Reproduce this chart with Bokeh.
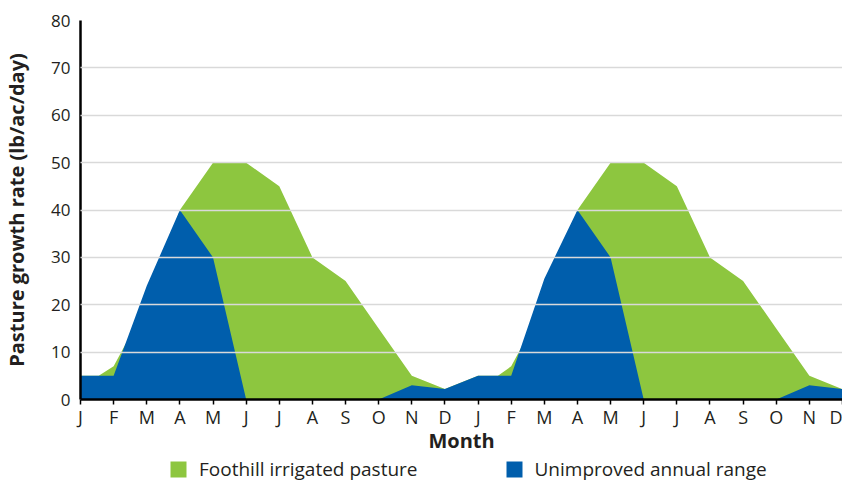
from bokeh.plotting import figure
from bokeh.layouts import column
from bokeh.models import Range1d, FixedTicker, Legend, LegendItem, ColumnDataSource
from bokeh.embed import file_html
from bokeh.resources import INLINE

# --- data -------------------------------------------------------------
month_labels = ["J", "F", "M", "A", "M", "J", "J", "A", "S", "O", "N", "D",
                "J", "F", "M", "A", "M", "J", "J", "A", "S", "O", "N", "D"]
month_pos = list(range(24))

foothill_x = [0, 0.55, 1, 2, 3, 4, 5, 6, 7, 8, 9, 10, 11,
              12, 12.6, 13, 14, 15, 16, 17, 18, 19, 20, 21, 22, 23]
foothill_y = [5, 5, 7, 20, 40, 50, 50, 45, 30, 25, 15, 5, 2.2,
              5, 5, 7, 20, 40, 50, 50, 45, 30, 25, 15, 5, 2.2]

unimproved_x = month_pos
unimproved_y = [5, 5, 24, 40, 30, 0, 0, 0, 0, 0, 3, 2.2,
                5, 5, 25.5, 40, 30, 0, 0, 0, 0, 0, 3, 2.2]

y_ticks = [0, 10, 20, 30, 40, 50, 60, 70, 80]
series_names = ["Foothill irrigated pasture", "Unimproved annual range"]

GREEN = "#8DC63F"
BLUE = "#005EAC"
FONT = "Open Sans"
TXT = "#231F20"

# --- main figure ------------------------------------------------------
p = figure(width=842, height=456, output_backend="svg", toolbar_location=None,
           x_range=Range1d(0, 23), y_range=Range1d(0, 80),
           min_border_left=80, min_border_right=0, min_border_top=20,
           min_border_bottom=57)
p.outline_line_color = None

src_g = ColumnDataSource(dict(x=foothill_x, y=foothill_y))
src_b = ColumnDataSource(dict(x=unimproved_x, y=unimproved_y))
p.varea(x="x", y1=0, y2="y", source=src_g, fill_color=GREEN)
p.varea(x="x", y1=0, y2="y", source=src_b, fill_color=BLUE)

# grid (drawn over the areas)
p.xgrid.visible = False
p.ygrid.ticker = FixedTicker(ticks=y_ticks[1:])
p.ygrid.grid_line_color = "#d9d9d9"
p.ygrid.grid_line_width = 1.5
p.ygrid.level = "annotation"

# y axis
ya = p.yaxis[0]
ya.ticker = FixedTicker(ticks=y_ticks)
ya.major_tick_out = 0
ya.major_tick_in = 0
ya.minor_tick_out = 0
ya.minor_tick_in = 0
ya.axis_line_color = "black"
ya.axis_line_width = 2.5
ya.major_label_standoff = 10
ya.major_label_text_font = FONT
ya.major_label_text_font_size = "17px"
ya.major_label_text_color = TXT
ya.axis_label = "Pasture growth rate (lb/ac/day)"
ya.axis_label_text_font = FONT
ya.axis_label_text_font_style = "bold"
ya.axis_label_text_font_size = "20px"
ya.axis_label_text_color = TXT
ya.axis_label_standoff = 18

# x axis
xa = p.xaxis[0]
xa.ticker = FixedTicker(ticks=month_pos)
xa.major_label_overrides = {i: lab for i, lab in zip(month_pos, month_labels)}
xa.major_tick_out = 5
xa.major_tick_in = 0
xa.minor_tick_out = 0
xa.minor_tick_in = 0
xa.major_tick_line_width = 1.5
xa.major_tick_line_color = "black"
xa.axis_line_color = "black"
xa.axis_line_width = 2.5
xa.major_label_standoff = 0
xa.major_label_text_font = FONT
xa.major_label_text_font_size = "18px"
xa.major_label_text_color = TXT
xa.axis_label = "Month"
xa.axis_label_text_font = FONT
xa.axis_label_text_font_style = "bold"
xa.axis_label_text_font_size = "20px"
xa.axis_label_text_color = TXT
xa.axis_label_standoff = -5

# --- legend strip -----------------------------------------------------
lf = figure(width=842, height=26, output_backend="svg", toolbar_location=None,
            x_range=Range1d(0, 1), y_range=Range1d(0, 1),
            x_axis_type=None, y_axis_type=None, min_border=0)
lf.outline_line_color = None
lf.xgrid.visible = False
lf.ygrid.visible = False
swatch_g = lf.varea(x=[0, 1], y1=[0, 0], y2=[0, 0], fill_color=GREEN)
swatch_b = lf.varea(x=[0, 1], y1=[0, 0], y2=[0, 0], fill_color=BLUE)

legend = Legend(items=[LegendItem(label=series_names[0], renderers=[swatch_g]),
                       LegendItem(label=series_names[1], renderers=[swatch_b])],
                orientation="horizontal", location=(88, 0),
                glyph_width=20, glyph_height=20, label_standoff=11, spacing=86,
                padding=0, margin=0, border_line_color=None,
                background_fill_alpha=0,
                label_text_font=FONT, label_text_font_size="19px",
                label_text_color=TXT)
lf.add_layout(legend, "center")

layout = column(p, lf, spacing=0)
open("out.html", "w").write(file_html(layout, INLINE))
